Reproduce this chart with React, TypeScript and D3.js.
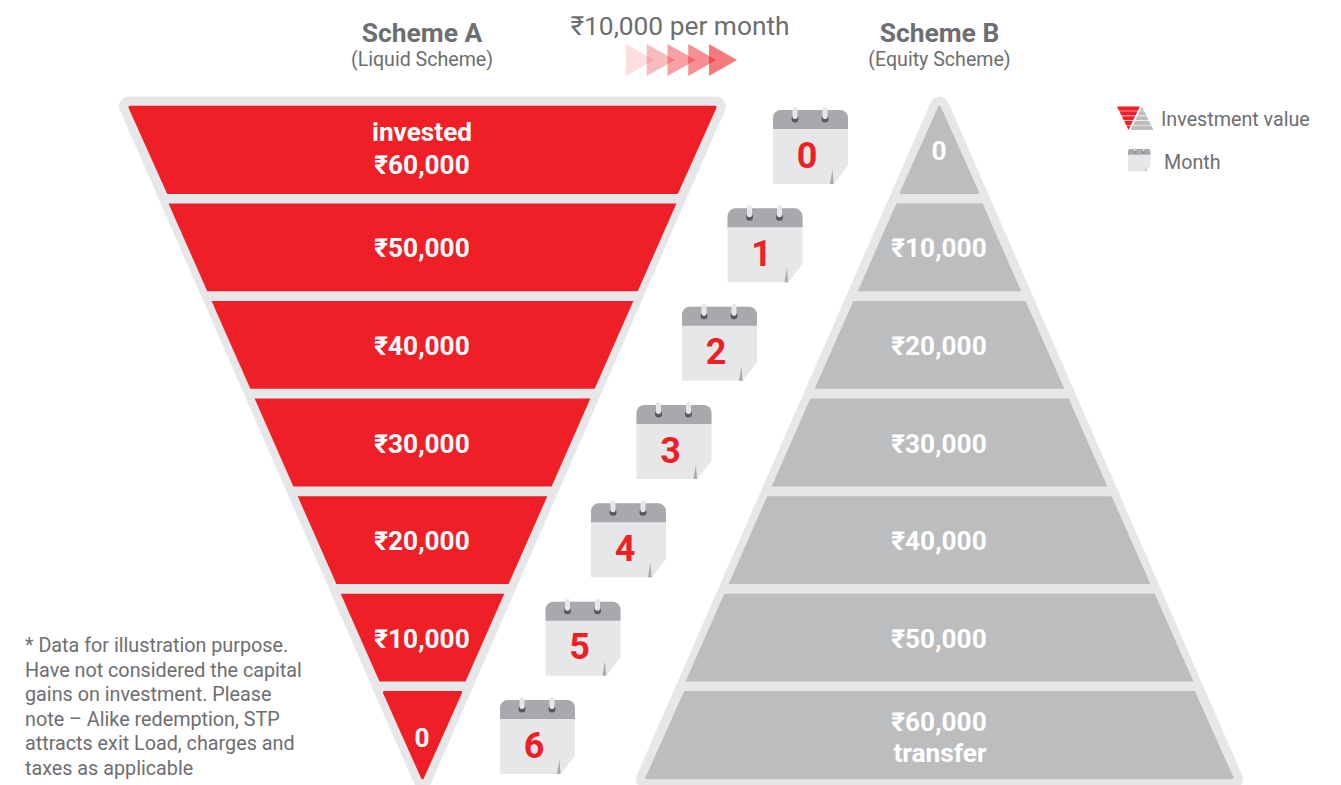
import React from 'react';
import * as d3 from 'd3';

// values
const months = [0, 1, 2, 3, 4, 5, 6];
const schemeAValues = [60000, 50000, 40000, 30000, 20000, 10000, 0];
const schemeBValues = [0, 10000, 20000, 30000, 40000, 50000, 60000];
const arrowSteps = [0, 1, 2, 3, 4];
const arrowOpacity = [0.14, 0.3, 0.42, 0.5, 0.6];
const noteLines = [
  '* Data for illustration purpose.',
  'Have not considered the capital',
  'gains on investment. Please',
  'note – Alike redemption, STP',
  'attracts exit Load, charges and',
  'taxes as applicable',
];

const RED = '#ee1f26';
const GREY = '#bcbdbf';
const LIGHT = '#e6e7e8';
const TEXT = '#6d6e71';
const FONT = 'Roboto, sans-serif';

const W = 1341;
const H = 785;

// rows shared by both funnels
const rowY = d3.scaleBand<number>().domain(months).range([106, 779]).paddingInner(0.1).paddingOuter(0);
const top = rowY(0) as number;
const bottom = 779;
const halfWidth = d3.scaleLinear().domain([0, bottom - top]).range([0, 297]);

const calX = d3.scaleLinear().domain([0, 6]).range([773, 500]);
const calY = d3.scaleLinear().domain([0, 6]).range([110, 700]);
const arrowX = d3.scaleLinear().domain([0, 4]).range([626, 709]);
const noteY = d3.scaleLinear().domain([0, 5]).range([652, 775]);

const rupee = (v: number) => (v === 0 ? '0' : `₹${d3.format(',')(v)}`);
const line = d3.line();

// slice of a triangle between y0 and y1, width comes from distance to the apex
function band(cx: number, y0: number, y1: number, apexY: number, scale = 1) {
  const h0 = halfWidth(Math.abs(y0 - apexY)) * scale;
  const h1 = halfWidth(Math.abs(y1 - apexY)) * scale;
  return line([
    [cx - h0, y0],
    [cx + h0, y0],
    [cx + h1, y1],
    [cx - h1, y1],
  ]) + 'Z';
}

function Funnel({ cx, values, color, apexY, labels }: any) {
  const bw = rowY.bandwidth();
  const baseY = apexY === top ? bottom : top;
  return (
    <g>
      <path
        d={band(cx, baseY, apexY, apexY, 294 / 297)}
        fill={LIGHT}
        stroke={LIGHT}
        strokeWidth={19}
        strokeLinejoin="round"
      />
      {months.map((m, i) => {
        const y0 = rowY(m) as number;
        const y1 = y0 + bw;
        const ends = i === 0 || i === 6;
        return (
          <path
            key={m}
            d={band(cx, y0, y1, apexY)}
            fill={color}
            stroke={color}
            strokeWidth={ends ? 3 : 0}
            strokeLinejoin="round"
            transform={ends ? `translate(${cx} ${(y0 + y1) / 2}) scale(0.985 0.97) translate(${-cx} ${-(y0 + y1) / 2})` : undefined}
          />
        );
      })}
      {months.map((m, i) => {
        const mid = (rowY(m) as number) + bw / 2;
        const extra = labels[i];
        const zero = values[i] === 0;
        const yText = zero ? mid + (apexY === top ? 10 : 11.5) : mid + 10;
        const tx = cx - 0.5;
        if (extra) {
          const first = extra.before ? extra.word : rupee(values[i]);
          const second = extra.before ? rupee(values[i]) : extra.word;
          return (
            <g key={m} fill="#fff" fontFamily={FONT} fontWeight={700} fontSize={26.2} textAnchor="middle">
              <text x={tx} y={mid + (extra.before ? -9 : -4)}>{first}</text>
              <text x={tx + (extra.before ? 0 : 1)} y={mid + (extra.before ? 24 : 27)}>{second}</text>
            </g>
          );
        }
        return (
          <text key={m} x={tx} y={yText} fill="#fff" fontFamily={FONT} fontWeight={700} fontSize={26.2} textAnchor="middle">
            {rupee(values[i])}
          </text>
        );
      })}
    </g>
  );
}

function Calendar({ x, y, s = 1, label }: any) {
  return (
    <g transform={`translate(${x} ${y}) scale(${s})`}>
      <path d="M0 8a8 8 0 0 1 8-8h59a8 8 0 0 1 8 8v47.5L61 74H0Z" fill={LIGHT} />
      <path d="M0 19V8a8 8 0 0 1 8-8h59a8 8 0 0 1 8 8v11Z" fill="#a7a9ac" />
      <path d="M57 74L59.5 59L60.5 74Z" fill="#a7a9ac" />
      {[22, 52].map((px) => (
        <g key={px}>
          <circle cx={px} cy={9} r={3.5} fill="#58595b" />
          <rect x={px - 2.5} y={-3} width={5} height={12} rx={2.5} fill="#e6e7e8" />
        </g>
      ))}
      {label !== undefined && (
        <text x={34} y={57.5} fill={RED} fontFamily={FONT} fontWeight={700} fontSize={36} textAnchor="middle">
          {label}
        </text>
      )}
    </g>
  );
}

function LegendMark() {
  const stripes = d3.range(5);
  const y = d3.scaleBand<number>().domain(stripes).range([106.5, 130]).paddingInner(0.12);
  const slice = (cx: number, y0: number, y1: number, apex: number) => {
    const k = 11.5 / 23.5;
    const h0 = Math.abs(y0 - apex) * k;
    const h1 = Math.abs(y1 - apex) * k;
    return `M${cx - h0} ${y0}L${cx + h0} ${y0}L${cx + h1} ${y1}L${cx - h1} ${y1}Z`;
  };
  return (
    <g>
      {stripes.map((i) => {
        const y0 = y(i) as number;
        return <path key={`b${i}`} d={slice(1142, y0, y0 + y.bandwidth(), 106.5)} fill={GREY} />;
      })}
      {stripes.map((i) => {
        const y0 = y(i) as number;
        return <path key={`a${i}`} d={slice(1128.5, y0, y0 + y.bandwidth(), 130)} fill={RED} />;
      })}
    </g>
  );
}

export default function App() {
  const labelsA = [{ word: 'invested', before: true }, null, null, null, null, null, null];
  const labelsB = [null, null, null, null, null, null, { word: 'transfer', before: false }];

  return (
    <svg
      width={W}
      height={H}
      viewBox={`0 0 ${W} ${H}`}
      style={{ position: 'absolute', left: 0, top: 0, display: 'block', background: '#fff' }}
    >
      <g fontFamily={FONT} textAnchor="middle" fill={TEXT}>
        <text x={422} y={42} fontSize={26.4} fontWeight={700}>Scheme A</text>
        <text x={422} y={66} fontSize={19.6}>(Liquid Scheme)</text>
        <text x={680} y={35} fontSize={26.3}>₹10,000 per month</text>
        <text x={939.5} y={42} fontSize={26.4} fontWeight={700}>Scheme B</text>
        <text x={939.5} y={66} fontSize={19.6}>(Equity Scheme)</text>
      </g>

      {arrowSteps.map((a, i) => (
        <path
          key={a}
          d={line([
            [arrowX(a), 44],
            [arrowX(a) + 28, 60],
            [arrowX(a), 76],
          ]) + 'Z'}
          fill={RED}
          opacity={arrowOpacity[i]}
        />
      ))}

      <Funnel cx={422.5} values={schemeAValues} color={RED} apexY={bottom} labels={labelsA} />
      <Funnel cx={939.5} values={schemeBValues} color={GREY} apexY={top} labels={labelsB} />

      {months.map((m) => (
        <Calendar key={m} x={calX(m)} y={calY(m)} label={m} />
      ))}

      <LegendMark />
      <Calendar x={1128} y={149} s={0.3} />
      <g fontFamily={FONT} fontSize={19.7} fill={TEXT}>
        <text x={1161} y={126}>Investment value</text>
        <text x={1164} y={169}>Month</text>
      </g>

      <g fontFamily={FONT} fontSize={19.75} fill={TEXT}>
        {noteLines.map((t, i) => (
          <text key={t} x={25} y={noteY(i)}>{t}</text>
        ))}
      </g>
    </svg>
  );
}
